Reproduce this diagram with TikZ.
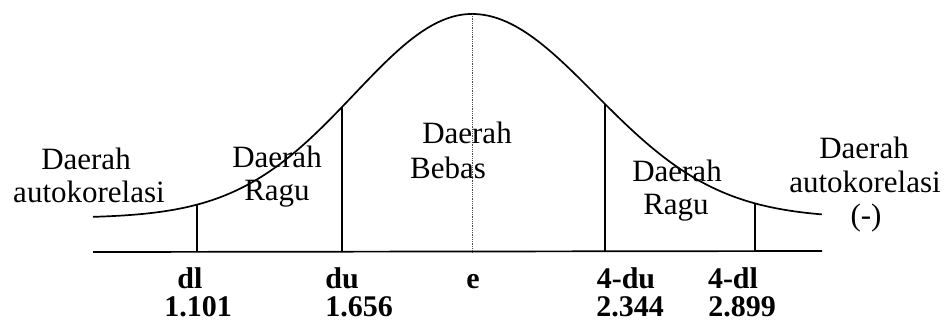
\documentclass[tikz,border=0pt]{standalone}
\usepackage{fontspec}
\setmainfont{Liberation Serif}
\begin{document}
\begin{tikzpicture}[x=1pt,y=-1pt,
  lbl/.style={anchor=base,inner sep=0pt,font=\fontsize{31}{36}\selectfont},
  blbl/.style={anchor=base,inner sep=0pt,font=\fontsize{30}{36}\selectfont\bfseries},
  curve/.style={line width=1.7pt,line join=round},
  axisline/.style={line width=1.7pt},
  vline/.style={line width=2pt},
  dotline/.style={line width=0.8pt,densely dotted,black!70}]
\useasboundingbox (0,0) rectangle (944,322);
% axis
\coordinate (axL) at (93,252);
\coordinate (axR) at (822,251);
\draw[axisline] (axL) -- (axR);
% curve (left and right halves)
\draw[curve] plot[domain=-3.79:0,samples=120]
  ({472+100*\x},{218-204*exp(-\x*\x/2.775)})
  -- plot[domain=0:3.50,samples=120]
  ({472+100*\x},{218-204*exp(-\x*\x/3.039)});
% vertical lines
\coordinate (dlT) at (197,204.6);  \coordinate (dlB) at (197,252);
\coordinate (duT) at (342,107);    \coordinate (duB) at (342,252);
\coordinate (eT) at (472,14);      \coordinate (eB) at (472,252);
\coordinate (uduT) at (605,104);   \coordinate (uduB) at (605,252);
\coordinate (udlT) at (755,203.4); \coordinate (udlB) at (755,251);
\draw[vline] (dlT) -- (dlB);
\draw[vline] (duT) -- (duB);
\draw[dotline] (eT) -- (eB);
\draw[vline] (uduT) -- (uduB);
\draw[vline,line width=1.6pt] (udlT) -- (udlB);
% region labels
\node[lbl] (a1) at (86,169) {Daerah};
\node[lbl] (a2) at (89,202) {autokorelasi};
\node[lbl] (r1) at (277,167) {Daerah};
\node[lbl] (r2) at (277,200) {Ragu};
\node[lbl] (b1) at (467,143) {Daerah};
\node[lbl] (b2) at (448,178) {Bebas};
\node[lbl] (s1) at (677,181) {Daerah};
\node[lbl] (s2) at (676,214) {Ragu};
\node[lbl] (n1) at (864,158) {Daerah};
\node[lbl] (n2) at (865,192) {autokorelasi};
\node[lbl] (n3) at (866,225) {(-)};
% axis labels
\node[blbl] (ldl) at (190,288) {dl};
\node[blbl] (vdl) at (198,316) {1.101};
\node[blbl] (ldu) at (342,288) {du};
\node[blbl] (vdu) at (359,316) {1.656};
\node[blbl] (le) at (473,288) {e};
\node[blbl] (ludu) at (626,288) {4-du};
\node[blbl] (vudu) at (630,316) {2.344};
\node[blbl] (ludl) at (733,288) {4-dl};
\node[blbl] (vudl) at (742,316) {2.899};
\end{tikzpicture}
\end{document}
